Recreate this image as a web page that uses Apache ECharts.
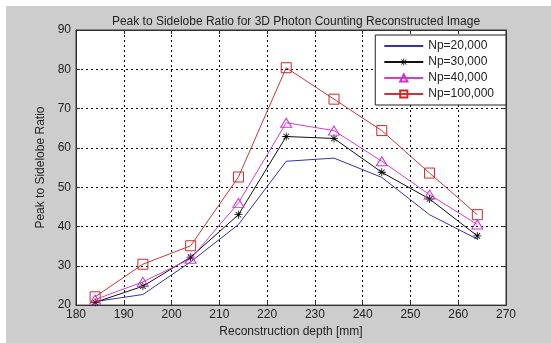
<!DOCTYPE html>
<html><head><meta charset="utf-8">
<script src="https://cdn.jsdelivr.net/npm/echarts@6/dist/echarts.min.js"></script>
<style>html,body{margin:0;padding:0;background:#fff;}#c{position:absolute;left:6px;top:6px;width:545px;height:337px;}</style>
</head><body><div id="c"></div>
<script>
var depths = [184, 194, 204, 214, 224, 234, 244, 254, 264];
var np20k  = [20.9, 22.7, 31.0, 40.5, 56.6, 57.4, 52.5, 43.0, 36.8];
var np30k  = [20.7, 24.8, 32.2, 43.0, 62.9, 62.4, 53.8, 47.0, 37.6];
var np40k  = [21.4, 25.9, 31.8, 46.0, 66.4, 64.4, 56.6, 48.1, 40.5];
var np100k = [22.1, 30.4, 35.1, 52.6, 80.4, 72.4, 64.4, 53.6, 43.0];
var xTicks = [180, 190, 200, 210, 220, 230, 240, 250, 260, 270];
var yTicks = [20, 30, 40, 50, 60, 70, 80, 90];
var names = ['Np=20,000', 'Np=30,000', 'Np=40,000', 'Np=100,000'];

var asterisk = 'path://M4.5,0H5.5V10H4.5Z M0,4.5H10V5.5H0Z M1.85,1.15L8.85,8.15L8.15,8.85L1.15,1.85Z M8.15,1.15L8.85,1.85L1.85,8.85L1.15,8.15Z';
function pts(v){ return depths.map(function(d,i){return [d, v[i]];}); }
var font = 'Liberation Sans';
var chart = echarts.init(document.getElementById('c'));
var axisCommon = {
  axisLine:{show:true,lineStyle:{color:'#333',width:1}},
  axisTick:{show:true,inside:true,length:4,lineStyle:{color:'#333'}},
  splitLine:{show:false}
};
chart.setOption({
  backgroundColor:'#cdcdcd',
  animation:false,
  textStyle:{fontFamily:font},
  title:{text:'Peak to Sidelobe Ratio for 3D Photon Counting Reconstructed Image',
    left:285, textAlign:'center', top:5,
    textStyle:{fontFamily:font,fontSize:12,fontWeight:'normal',color:'#222'}},
  grid:{left:70, right:45, top:24, bottom:32, show:true, backgroundColor:'#fff', borderColor:'#333', borderWidth:1},
  legend:{orient:'vertical', right:45, top:29, backgroundColor:'#fff', borderColor:'#222', borderWidth:1,
    padding:[5,12,5,8], itemWidth:39, itemHeight:9, itemGap:4,
    textStyle:{fontFamily:font,fontSize:12,color:'#222',lineHeight:11},
    data:[{name:names[0], itemStyle:{opacity:0}}, names[1], names[2], names[3]]},
  xAxis:[{
    type:'value', min:180, max:270, interval:10, position:'bottom',
    name:'Reconstruction depth [mm]', nameLocation:'middle', nameGap:17,
    nameTextStyle:{fontFamily:font,fontSize:12,color:'#222'},
    axisLabel:{fontFamily:font,fontSize:12,color:'#222',margin:4,
      formatter:function(v){return xTicks.indexOf(v)>=0? String(v):'';}},
    axisLine:axisCommon.axisLine, axisTick:axisCommon.axisTick,
    splitLine:{show:true,lineStyle:{color:'#000',type:[2,3],width:1}}
  },{
    type:'value', min:180, max:270, interval:10, position:'top',
    axisLabel:{show:false}, axisLine:axisCommon.axisLine, axisTick:axisCommon.axisTick, splitLine:{show:false}
  }],
  yAxis:[{
    type:'value', min:20, max:90, interval:10, position:'left',
    name:'Peak to Sidelobe Ratio', nameLocation:'middle', nameGap:28,
    nameTextStyle:{fontFamily:font,fontSize:12,color:'#222'},
    axisLabel:{fontFamily:font,fontSize:12,color:'#222',margin:5,
      formatter:function(v){return yTicks.indexOf(v)>=0? String(v):'';}},
    axisLine:axisCommon.axisLine, axisTick:axisCommon.axisTick,
    splitLine:{show:true,lineStyle:{color:'#000',type:[2,3],width:1}}
  },{
    type:'value', min:20, max:90, interval:10, position:'right',
    axisLabel:{show:false}, axisLine:axisCommon.axisLine, axisTick:axisCommon.axisTick, splitLine:{show:false}
  }],
  series:[
    {name:names[0], type:'line', data:pts(np20k), symbol:'none',
      lineStyle:{color:'#3434a8',width:1}, itemStyle:{color:'#3434a8'}},
    {name:names[1], type:'line', data:pts(np30k), symbol:asterisk, symbolSize:8,
      lineStyle:{color:'#111',width:1}, itemStyle:{color:'#000'}},
    {name:names[2], type:'line', data:pts(np40k), symbol:'triangle', symbolSize:[11,9],
      lineStyle:{color:'#d040d0',width:1}, itemStyle:{color:'rgba(0,0,0,0)',borderColor:'#d030d0',borderWidth:1}},
    {name:names[3], type:'line', data:pts(np100k), symbol:'rect', symbolSize:10,
      lineStyle:{color:'#c83838',width:1}, itemStyle:{color:'rgba(0,0,0,0)',borderColor:'#d02828',borderWidth:1}}
  ]
});
</script></body></html>
